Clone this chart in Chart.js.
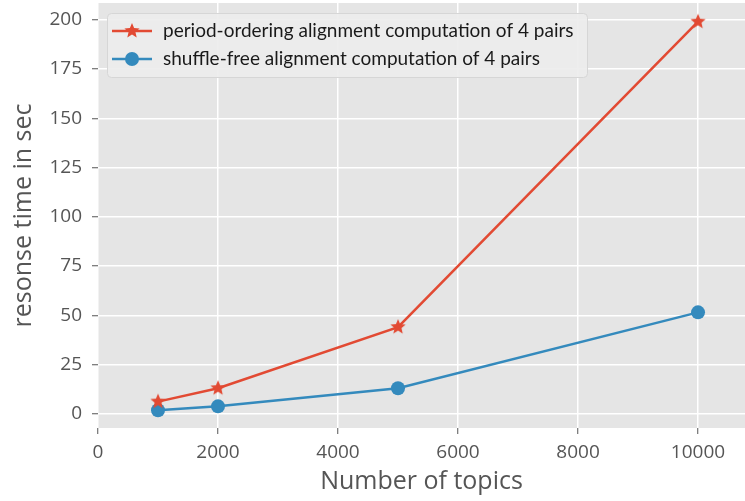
<!DOCTYPE html>
<html>
<head>
<meta charset="utf-8">
<script src="https://cdn.jsdelivr.net/npm/chart.js@4.4.1/dist/chart.umd.min.js"></script>
<style>
  html, body { margin: 0; padding: 0; background: #fff; }
</style>
</head>
<body>
<canvas id="myChart" width="745" height="501"></canvas>
<script>
const topics = [1000, 2000, 5000, 10000];
const periodOrdering = [6.2, 13, 44, 199];
const shuffleFree = [1.8, 3.8, 13, 51.5];
const seriesLabels = [
  "period-ordering alignment computation of 4 pairs",
  "shuffle-free alignment computation of 4 pairs",
];
const xTicks = [0, 2000, 4000, 6000, 8000, 10000];
const yTicks = [0, 25, 50, 75, 100, 125, 150, 175, 200];

const red = "#E24A33";
const blue = "#348ABD";

// filled star marker (Chart.js 'star' is only stroked)
function makeStar(r, color) {
  const c = document.createElement("canvas");
  c.width = c.height = r * 2 + 2;
  const g = c.getContext("2d");
  g.translate(r + 1, r + 1);
  g.beginPath();
  for (let i = 0; i < 10; i++) {
    const rad = i % 2 === 0 ? r : r * 0.45;
    const a = -Math.PI / 2 + (i * Math.PI) / 5;
    g.lineTo(rad * Math.cos(a), rad * Math.sin(a));
  }
  g.closePath();
  g.fillStyle = color;
  g.fill();
  return c;
}
const star = makeStar(8, red);

const plotBg = {
  id: "plotBg",
  beforeDraw(chart) {
    const { ctx, chartArea: a } = chart;
    ctx.save();
    ctx.fillStyle = "#E5E5E5";
    ctx.fillRect(a.left, a.top, a.right - a.left, a.bottom - a.top);
    ctx.restore();
  },
};

const boxLegend = {
  id: "boxLegend",
  afterDraw(chart) {
    const { ctx, chartArea: a } = chart;
    const x = a.left + 9, y = a.top + 10, w = 480, h = 64;
    ctx.save();
    ctx.fillStyle = "rgba(236,236,236,0.9)";
    ctx.strokeStyle = "#D6D6D6";
    ctx.lineWidth = 1;
    ctx.beginPath();
    ctx.roundRect(x + 0.5, y + 0.5, w, h, 4);
    ctx.fill();
    ctx.stroke();
    ctx.font = "19px Lato";
    ctx.textBaseline = "middle";
    chart.data.datasets.forEach((ds, i) => {
      const cy = y + 18 + i * 28;
      ctx.strokeStyle = ds.borderColor;
      ctx.lineWidth = 2.5;
      ctx.beginPath();
      ctx.moveTo(x + 5, cy);
      ctx.lineTo(x + 45, cy);
      ctx.stroke();
      if (ds.pointStyle === "circle") {
        ctx.fillStyle = ds.borderColor;
        ctx.beginPath();
        ctx.arc(x + 25, cy, 7, 0, Math.PI * 2);
        ctx.fill();
      } else {
        ctx.drawImage(ds.pointStyle, x + 25 - star.width / 2, cy - star.height / 2);
      }
      ctx.fillStyle = "#1a1a1a";
      ctx.fillText(ds.label, x + 56, cy);
    });
    ctx.restore();
  },
};

function noPad(s) {
  s.paddingTop = 0;
  s.paddingBottom = 0;
  s.paddingLeft = 0;
  s.paddingRight = 0;
}

new Chart(document.getElementById("myChart"), {
  type: "line",
  data: {
    datasets: [
      {
        label: seriesLabels[0],
        data: topics.map((t, i) => ({ x: t, y: periodOrdering[i] })),
        borderColor: red,
        backgroundColor: red,
        borderWidth: 2.5,
        pointStyle: star,
        pointRadius: 8,
      },
      {
        label: seriesLabels[1],
        data: topics.map((t, i) => ({ x: t, y: shuffleFree[i] })),
        borderColor: blue,
        backgroundColor: blue,
        borderWidth: 2.5,
        pointStyle: "circle",
        pointRadius: 7,
        pointBorderWidth: 0,
      },
    ],
  },
  options: {
    responsive: false,
    animation: false,
    layout: { autoPadding: false, padding: { top: 3, right: 0, left: 0, bottom: 0 } },
    plugins: { legend: { display: false }, tooltip: { enabled: false } },
    scales: {
      x: {
        type: "linear",
        min: 0,
        max: 10783,
        afterBuildTicks: (s) => { s.ticks = xTicks.map((v) => ({ value: v })); },
        afterFit: (s) => { s.height = 73; noPad(s); },
        grid: { color: "#FFFFFF", lineWidth: 1.5, tickColor: "#555", tickLength: 6, tickWidth: 1 },
        border: { display: false },
        ticks: {
          color: "#555",
          font: { family: "Open Sans", size: 19 },
          padding: 7,
          maxRotation: 0,
          callback: (v) => String(v),
        },
        title: {
          display: true,
          text: "Number of topics",
          color: "#555",
          font: { family: "Open Sans", size: 25 },
          padding: { top: 4, bottom: 4 },
        },
      },
      y: {
        min: -7.2,
        max: 208.5,
        afterBuildTicks: (s) => { s.ticks = yTicks.map((v) => ({ value: v })); },
        afterFit: (s) => { s.width = 98; noPad(s); },
        grid: { color: "#FFFFFF", lineWidth: 1.5, tickColor: "#555", tickLength: 6, tickWidth: 1 },
        border: { display: false },
        ticks: {
          color: "#555",
          font: { family: "Open Sans", size: 19 },
          padding: 10,
          callback: (v) => String(v),
        },
        title: {
          display: true,
          text: "resonse time in sec",
          color: "#555",
          font: { family: "Open Sans", size: 25 },
          padding: { top: 9, bottom: 9 },
        },
      },
    },
  },
  plugins: [plotBg, boxLegend],
});
</script>
</body>
</html>
